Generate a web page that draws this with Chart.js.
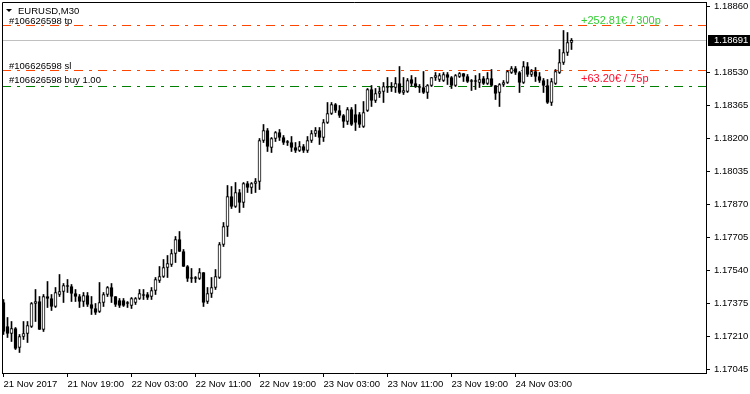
<!DOCTYPE html>
<html>
<head>
<meta charset="utf-8">
<script src="https://cdn.jsdelivr.net/npm/chart.js@4.4.1/dist/chart.umd.min.js"></script>
<style>
  html, body { margin: 0; padding: 0; background: #fff; overflow: hidden; }
  #wrap { width: 750px; height: 394px; }
</style>
</head>
<body>
<div id="wrap"><canvas id="chart" width="750" height="394"></canvas></div>
<script>
// EURUSD M30 candles, one per 30 min starting 21 Nov 2017 11:00
const symbolTitle = 'EURUSD,M30';

const openPrices = [
  1.17380, 1.17260, 1.17225, 1.17250, 1.17155, 1.17210, 1.17225, 1.17260, 1.17375, 1.17385,
  1.17245, 1.17410, 1.17400, 1.17360, 1.17420, 1.17435, 1.17465, 1.17460, 1.17425, 1.17410,
  1.17385, 1.17415, 1.17370, 1.17350, 1.17335, 1.17380, 1.17420, 1.17455, 1.17410, 1.17390,
  1.17390, 1.17375, 1.17365, 1.17380, 1.17400, 1.17420, 1.17420, 1.17410, 1.17440, 1.17490,
  1.17510, 1.17555, 1.17570, 1.17625, 1.17695, 1.17635, 1.17560, 1.17500, 1.17500, 1.17500,
  1.17530, 1.17385, 1.17425, 1.17455, 1.17505, 1.17670, 1.17760, 1.17910, 1.17860, 1.17930,
  1.17880, 1.17975, 1.17955, 1.17975, 1.17985, 1.18190, 1.18240, 1.18155, 1.18200, 1.18230,
  1.18205, 1.18180, 1.18180, 1.18155, 1.18140, 1.18160, 1.18140, 1.18190, 1.18225, 1.18240,
  1.18205, 1.18280, 1.18325, 1.18370, 1.18340, 1.18315, 1.18285, 1.18345, 1.18320, 1.18320,
  1.18260, 1.18340, 1.18445, 1.18390, 1.18425, 1.18435, 1.18460, 1.18455, 1.18455, 1.18475,
  1.18430, 1.18435, 1.18495, 1.18475, 1.18460, 1.18455, 1.18430, 1.18465, 1.18505, 1.18495,
  1.18490, 1.18520, 1.18505, 1.18465, 1.18510, 1.18525, 1.18510, 1.18485, 1.18485, 1.18480,
  1.18500, 1.18475, 1.18500, 1.18465, 1.18430, 1.18470, 1.18480, 1.18530, 1.18550, 1.18530,
  1.18480, 1.18560, 1.18520, 1.18535, 1.18510, 1.18490, 1.18465, 1.18380, 1.18475, 1.18530,
  1.18580, 1.18630, 1.18680
];
const highPrices = [
  1.17395, 1.17305, 1.17285, 1.17255, 1.17220, 1.17285, 1.17285, 1.17380, 1.17445, 1.17410,
  1.17420, 1.17485, 1.17420, 1.17455, 1.17520, 1.17475, 1.17495, 1.17470, 1.17445, 1.17420,
  1.17430, 1.17430, 1.17410, 1.17375, 1.17480, 1.17430, 1.17460, 1.17475, 1.17410, 1.17400,
  1.17400, 1.17385, 1.17405, 1.17405, 1.17445, 1.17445, 1.17430, 1.17455, 1.17505, 1.17560,
  1.17595, 1.17615, 1.17645, 1.17710, 1.17735, 1.17645, 1.17565, 1.17550, 1.17510, 1.17550,
  1.17530, 1.17455, 1.17505, 1.17545, 1.17680, 1.17780, 1.17965, 1.17960, 1.17980, 1.17945,
  1.17980, 1.17985, 1.17980, 1.18000, 1.18200, 1.18270, 1.18250, 1.18205, 1.18235, 1.18245,
  1.18215, 1.18190, 1.18210, 1.18180, 1.18185, 1.18170, 1.18210, 1.18240, 1.18255, 1.18255,
  1.18295, 1.18380, 1.18380, 1.18375, 1.18365, 1.18320, 1.18355, 1.18355, 1.18370, 1.18330,
  1.18385, 1.18450, 1.18465, 1.18450, 1.18455, 1.18480, 1.18505, 1.18480, 1.18505, 1.18560,
  1.18505, 1.18500, 1.18515, 1.18505, 1.18470, 1.18535, 1.18470, 1.18505, 1.18530, 1.18525,
  1.18530, 1.18530, 1.18510, 1.18520, 1.18530, 1.18525, 1.18520, 1.18495, 1.18515, 1.18525,
  1.18510, 1.18530, 1.18545, 1.18465, 1.18475, 1.18490, 1.18540, 1.18560, 1.18560, 1.18535,
  1.18585, 1.18580, 1.18545, 1.18555, 1.18530, 1.18500, 1.18495, 1.18500, 1.18545, 1.18645,
  1.18740, 1.18730, 1.18700
];
const lowPrices = [
  1.17220, 1.17205, 1.17185, 1.17145, 1.17130, 1.17195, 1.17180, 1.17255, 1.17285, 1.17245,
  1.17235, 1.17355, 1.17340, 1.17355, 1.17410, 1.17380, 1.17430, 1.17385, 1.17385, 1.17355,
  1.17360, 1.17360, 1.17320, 1.17320, 1.17330, 1.17360, 1.17410, 1.17380, 1.17360, 1.17355,
  1.17360, 1.17355, 1.17350, 1.17370, 1.17395, 1.17395, 1.17395, 1.17395, 1.17420, 1.17480,
  1.17505, 1.17505, 1.17560, 1.17580, 1.17635, 1.17560, 1.17485, 1.17480, 1.17480, 1.17495,
  1.17360, 1.17375, 1.17405, 1.17445, 1.17500, 1.17660, 1.17710, 1.17850, 1.17855, 1.17830,
  1.17855, 1.17930, 1.17925, 1.17930, 1.17945, 1.18180, 1.18135, 1.18130, 1.18185, 1.18190,
  1.18170, 1.18165, 1.18135, 1.18130, 1.18135, 1.18130, 1.18130, 1.18180, 1.18210, 1.18170,
  1.18185, 1.18275, 1.18320, 1.18330, 1.18305, 1.18255, 1.18270, 1.18265, 1.18240, 1.18255,
  1.18255, 1.18335, 1.18360, 1.18380, 1.18405, 1.18380, 1.18430, 1.18435, 1.18430, 1.18425,
  1.18420, 1.18430, 1.18460, 1.18455, 1.18430, 1.18425, 1.18400, 1.18460, 1.18490, 1.18485,
  1.18485, 1.18470, 1.18450, 1.18460, 1.18505, 1.18485, 1.18480, 1.18440, 1.18445, 1.18455,
  1.18470, 1.18470, 1.18460, 1.18395, 1.18360, 1.18460, 1.18475, 1.18525, 1.18520, 1.18430,
  1.18475, 1.18510, 1.18510, 1.18485, 1.18480, 1.18430, 1.18375, 1.18365, 1.18470, 1.18525,
  1.18570, 1.18615, 1.18645
];
const closePrices = [
  1.17235, 1.17225, 1.17250, 1.17150, 1.17210, 1.17225, 1.17265, 1.17375, 1.17385, 1.17245,
  1.17410, 1.17400, 1.17360, 1.17430, 1.17435, 1.17465, 1.17460, 1.17425, 1.17410, 1.17385,
  1.17415, 1.17370, 1.17350, 1.17330, 1.17380, 1.17420, 1.17455, 1.17410, 1.17370, 1.17365,
  1.17365, 1.17375, 1.17400, 1.17400, 1.17425, 1.17415, 1.17405, 1.17440, 1.17495, 1.17510,
  1.17555, 1.17575, 1.17625, 1.17695, 1.17635, 1.17560, 1.17500, 1.17500, 1.17500, 1.17530,
  1.17380, 1.17425, 1.17455, 1.17510, 1.17670, 1.17760, 1.17910, 1.17860, 1.17930, 1.17880,
  1.17975, 1.17955, 1.17975, 1.17985, 1.18190, 1.18240, 1.18160, 1.18200, 1.18230, 1.18205,
  1.18180, 1.18180, 1.18155, 1.18140, 1.18160, 1.18140, 1.18190, 1.18225, 1.18240, 1.18205,
  1.18280, 1.18325, 1.18370, 1.18340, 1.18315, 1.18285, 1.18345, 1.18270, 1.18280, 1.18270,
  1.18330, 1.18445, 1.18390, 1.18425, 1.18435, 1.18460, 1.18455, 1.18455, 1.18475, 1.18430,
  1.18440, 1.18490, 1.18475, 1.18460, 1.18455, 1.18430, 1.18465, 1.18505, 1.18515, 1.18515,
  1.18520, 1.18505, 1.18465, 1.18515, 1.18525, 1.18510, 1.18485, 1.18485, 1.18485, 1.18495,
  1.18475, 1.18500, 1.18465, 1.18425, 1.18470, 1.18480, 1.18535, 1.18550, 1.18530, 1.18480,
  1.18560, 1.18520, 1.18535, 1.18510, 1.18490, 1.18465, 1.18380, 1.18485, 1.18535, 1.18580,
  1.18630, 1.18680, 1.18691
];

const xTickBars = [0, 16, 32, 48, 64, 80, 96, 112, 128];
const xTickLabels = ['21 Nov 2017', '21 Nov 19:00', '22 Nov 03:00', '22 Nov 11:00', '22 Nov 19:00',
                     '23 Nov 03:00', '23 Nov 11:00', '23 Nov 19:00', '24 Nov 03:00'];
const yTickValues = [1.17045, 1.17210, 1.17375, 1.17540, 1.17705, 1.17870, 1.18035, 1.18200,
                     1.18365, 1.18530, 1.18860];

const bidPrice = 1.18691;
const orderTicket = '#106626598';
const tpPrice = 1.18765;
const slPrice = 1.18540;
const entryPrice = 1.18465;
const tpProfitText = '+252.81€ / 300p';
const slProfitText = '+63.20€ / 75p';

const FONT = '"Liberation Sans", Arial, sans-serif';
const X_MIN = -0.375, X_MAX = 175.625;
// 371 px of plot height at 0.00005 per pixel
const Y_MAX = 1.188825, Y_MIN = 1.170275;

const candleIdx = closePrices.map((_, i) => i);
const wickData = candleIdx.map(i => ({ x: i, y: [lowPrices[i], highPrices[i]] }));
const bodyData = candleIdx.map(i => ({ x: i, y: [openPrices[i], closePrices[i]] }));
const bodyColors = candleIdx.map(i => closePrices[i] > openPrices[i] ? '#ffffff' : '#000000');

const levels = [
  { price: bidPrice, color: '#c0c0c0', dash: [] },
  { price: tpPrice, color: '#ff4500', dash: [9, 6, 3, 6] },
  { price: slPrice, color: '#ff4500', dash: [9, 6, 3, 6] },
  { price: entryPrice, color: '#008000', dash: [9, 6, 3, 6] }
];

// no label padding: the plot frame fills the canvas like the terminal does
function fixSize(size) {
  return s => {
    if (s.isHorizontal()) s.height = size; else s.width = size;
    s.paddingTop = s.paddingBottom = s.paddingLeft = s.paddingRight = 0;
  };
}

// order level lines, behind the candles
const levelLines = {
  id: 'levelLines',
  beforeDatasetsDraw(chart) {
    const { ctx, chartArea, scales } = chart;
    ctx.save();
    ctx.lineWidth = 1;
    levels.forEach(l => {
      const py = Math.round(scales.y.getPixelForValue(l.price)) + 0.5;
      ctx.strokeStyle = l.color;
      ctx.setLineDash(l.dash);
      ctx.beginPath();
      ctx.moveTo(chartArea.left, py);
      ctx.lineTo(chartArea.right, py);
      ctx.stroke();
    });
    ctx.restore();
  }
};

const overlayText = {
  id: 'overlayText',
  afterDatasetsDraw(chart) {
    const { ctx, chartArea, scales } = chart;
    const y = scales.y;
    ctx.save();
    // frame left / top
    ctx.strokeStyle = '#000';
    ctx.lineWidth = 1;
    ctx.beginPath();
    ctx.moveTo(chartArea.left + 0.5, chartArea.bottom);
    ctx.lineTo(chartArea.left + 0.5, chartArea.top + 0.5);
    ctx.lineTo(chartArea.right, chartArea.top + 0.5);
    ctx.stroke();

    ctx.font = '9.5px ' + FONT;
    ctx.textBaseline = 'alphabetic';
    ctx.fillStyle = '#000';
    // title with little drop arrow
    ctx.beginPath();
    ctx.moveTo(6, 9); ctx.lineTo(12, 9); ctx.lineTo(9, 12); ctx.closePath();
    ctx.fill();
    ctx.fillText(symbolTitle, 18, 14);

    ctx.fillText(orderTicket + ' tp', 9, y.getPixelForValue(tpPrice) - 2);
    ctx.fillText(orderTicket + ' sl', 9, y.getPixelForValue(slPrice) - 2);
    ctx.fillText(orderTicket + ' buy 1.00', 9, y.getPixelForValue(entryPrice) - 3);

    ctx.font = '11px ' + FONT;
    ctx.fillStyle = '#32cd32';
    ctx.fillText(tpProfitText, 581, y.getPixelForValue(tpPrice) - 2);
    ctx.fillStyle = '#ff0a2a';
    ctx.fillText(slProfitText, 581, y.getPixelForValue(entryPrice) - 4);

    // current bid box on the price axis
    const by = y.getPixelForValue(bidPrice);
    ctx.fillStyle = '#000';
    ctx.fillRect(chartArea.right + 2, Math.round(by) - 5, 750 - chartArea.right - 2, 11);
    ctx.font = '9.5px ' + FONT;
    ctx.fillStyle = '#fff';
    ctx.textBaseline = 'middle';
    ctx.fillText(bidPrice.toFixed(5), chartArea.right + 8, by + 0.5);
    ctx.restore();
  }
};

new Chart(document.getElementById('chart'), {
  type: 'bar',
  data: {
    datasets: [
      {
        data: bodyData,
        backgroundColor: bodyColors,
        borderColor: '#000',
        borderWidth: 1,
        borderSkipped: false,
        barThickness: 3,
        minBarLength: 1,
        grouped: false,
        order: 0
      },
      {
        data: wickData,
        backgroundColor: '#000',
        borderWidth: 0,
        barThickness: 1,
        grouped: false,
        order: 1
      }
    ]
  },
  options: {
    responsive: false,
    devicePixelRatio: 1,
    animation: false,
    layout: { autoPadding: false, padding: { left: 2, top: 2, right: 0, bottom: 0 } },
    plugins: { legend: { display: false }, tooltip: { enabled: false } },
    scales: {
      x: {
        type: 'linear',
        min: X_MIN,
        max: X_MAX,
        offset: false,
        afterFit: fixSize(21),
        afterBuildTicks: s => { s.ticks = xTickBars.map(v => ({ value: v })); },
        grid: { drawOnChartArea: false, drawTicks: true, tickLength: 4, tickColor: '#000', offset: false },
        border: { display: true, color: '#000', width: 1 },
        ticks: {
          autoSkip: false,
          maxRotation: 0,
          align: 'start',
          padding: 2,
          color: '#000',
          font: { family: FONT, size: 9.5 },
          callback: v => xTickLabels[xTickBars.indexOf(v)]
        }
      },
      y: {
        type: 'linear',
        position: 'right',
        min: Y_MIN,
        max: Y_MAX,
        afterFit: fixSize(44),
        afterBuildTicks: s => { s.ticks = yTickValues.map(v => ({ value: v })); },
        grid: { drawOnChartArea: false, drawTicks: true, tickLength: 4, tickColor: '#000' },
        border: { display: true, color: '#000', width: 1 },
        ticks: {
          padding: 4,
          color: '#000',
          font: { family: FONT, size: 9.5 },
          callback: v => Number(v).toFixed(5)
        }
      }
    }
  },
  plugins: [levelLines, overlayText]
});
</script>
</body>
</html>
